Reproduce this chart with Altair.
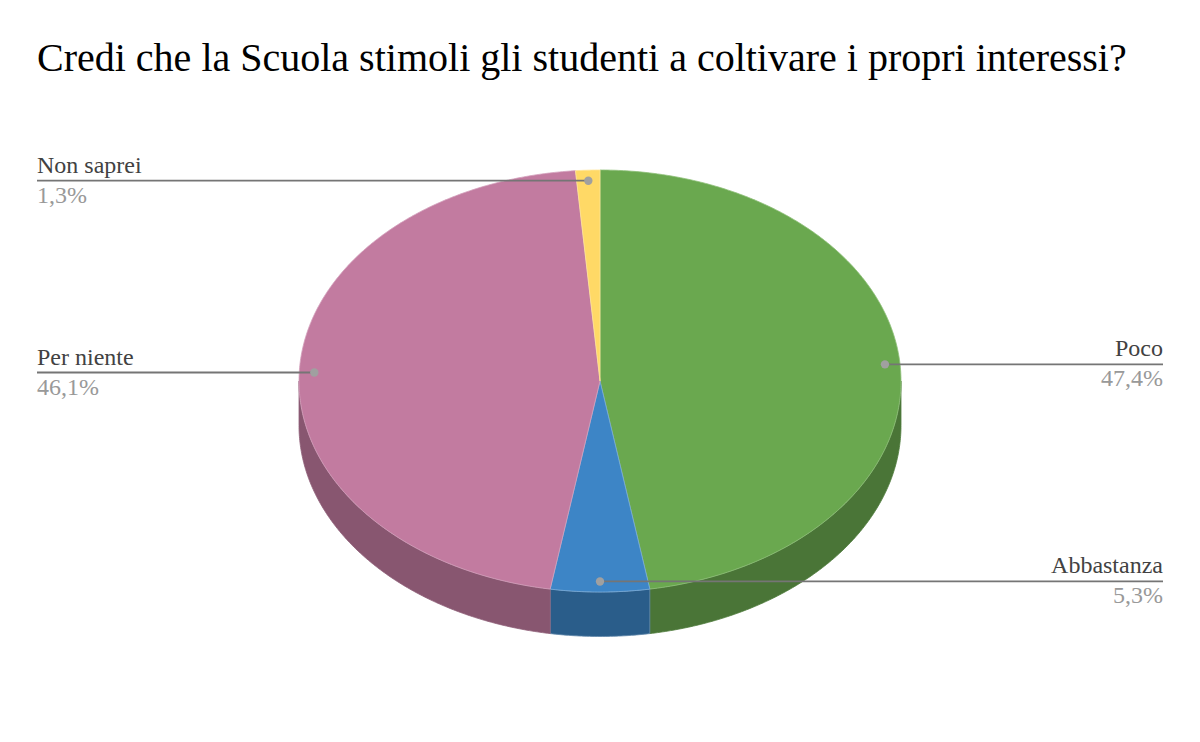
import math
import altair as alt
import pandas as pd

# Data
labels = ["Poco", "Abbastanza", "Per niente", "Non saprei"]
shares = [47.4, 5.3, 46.1, 1.3]
share_labels = ["47,4%", "5,3%", "46,1%", "1,3%"]
colors = ["#6aa84f", "#3d85c6", "#c27ba0", "#ffd966"]
wall_colors = ["#4a7537", "#2a5d8a", "#885670", "#b29747"]
edge_colors = ["#8fc07a", "#78abd8", "#d3a0bb", "#ffe595"]
wall_edges = ["#4f7c3c", "#5f86aa", "#8f5f78", "#b29747"]
TITLE = "Credi che la Scuola stimoli gli studenti a coltivare i propri interessi?"

# Layout (page pixels)
CX, CY, RX, RY, DEPTH = 600.0, 381.0, 301.0, 211.0, 44.5
LEFT, RIGHT = 37.0, 1163.0
PAD_TOP = 100
W, H = 1184, 626

xs = alt.Scale(domain=[8, 8 + W], range=[0, W])
ys = alt.Scale(domain=[8 + PAD_TOP, 8 + PAD_TOP + H], range=[0, H])
X = alt.X("x:Q", scale=xs, axis=None)
Y = alt.Y("y:Q", scale=ys, axis=None)


def pt(deg, r=1.0, dy=0.0):
    a = math.radians(deg)
    return CX + RX * r * math.sin(a), CY - RY * r * math.cos(a) + dy


def arc(a0, a1):
    n = max(2, int(abs(a1 - a0) * 2) + 1)
    return [a0 + (a1 - a0) * k / (n - 1) for k in range(n)]


def poly(points, fill, stroke, width=1.0):
    df = pd.DataFrame(points, columns=["x", "y"])
    df["i"] = range(len(df))
    return (
        alt.Chart(df)
        .mark_line(fill=fill, stroke=stroke, strokeWidth=width, interpolate="linear", clip=False)
        .encode(x=X, y=Y, order=alt.Order("i:Q"))
    )


total = sum(shares)
bounds, acc = [], 0.0
for s in shares:
    bounds.append((acc / total * 360, (acc + s) / total * 360))
    acc += s

walls, tops = [], []
for (a0, a1), wc, we, c, e in zip(bounds, wall_colors, wall_edges, colors, edge_colors):
    lo, hi = max(a0, 90), min(a1, 270)
    if lo < hi:
        seg = arc(lo, hi)
        pts = [pt(a) for a in seg] + [pt(a, dy=DEPTH) for a in reversed(seg)]
        pts.append(pts[0])
        walls.append(poly(pts, wc, we, 0.8))
    pts = [(CX, CY)] + [pt(a) for a in arc(a0, a1)] + [(CX, CY)]
    tops.append(poly(pts, c, e, 0.8))

rows = []
for (a0, a1), name, pct in zip(bounds, labels, share_labels):
    mid = (a0 + a1) / 2
    dx, dy = pt(mid, 0.95)
    right = dx > CX + 1e-6 and mid < 180 or abs(mid - 180) < 5
    rows.append(
        dict(name=name, pct=pct, x=dx, y=dy, x2=RIGHT if right else LEFT,
             side="right" if right else "left")
    )
lab = pd.DataFrame(rows)
lab["y_name"] = lab["y"] - 8
lab["y_pct"] = lab["y"] + 22

rules = (
    alt.Chart(lab)
    .mark_rule(color="#757575", strokeWidth=1.8)
    .encode(x=X, x2="x2:Q", y=Y)
)
dots = (
    alt.Chart(lab)
    .mark_point(filled=True, color="#a0a0a0", opacity=1, size=70)
    .encode(x=X, y=Y)
)


def texts(side, align):
    d = lab[lab["side"] == side]
    base = alt.Chart(d).encode(x=alt.X("x2:Q", scale=xs, axis=None))
    kw = dict(font="Liberation Serif", fontSize=24, align=align, baseline="alphabetic")
    return [
        base.mark_text(color="#424242", **kw).encode(y=alt.Y("y_name:Q", scale=ys, axis=None), text="name:N"),
        base.mark_text(color="#999999", **kw).encode(y=alt.Y("y_pct:Q", scale=ys, axis=None), text="pct:N"),
    ]


layers = walls + tops + [rules, dots] + texts("left", "left") + texts("right", "right")

chart = (
    alt.layer(*layers)
    .properties(
        width=W,
        height=H,
        padding={"left": 0, "right": 0, "top": PAD_TOP, "bottom": 0},
        autosize="none",
        background="white",
        title=alt.TitleParams(
            TITLE,
            anchor="start",
            frame="group",
            font="Liberation Serif",
            fontSize=40,
            fontWeight="normal",
            color="#000000",
            dx=29,
            dy=4,
            offset=1,
            baseline="alphabetic",
        ),
    )
    .configure_view(stroke=None)
)
chart.save("out.html", embed_options={"renderer": "svg", "actions": False})
